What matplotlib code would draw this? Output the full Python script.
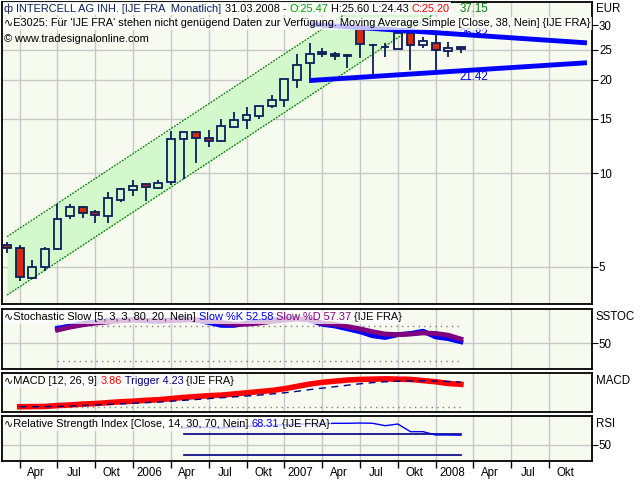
import matplotlib
matplotlib.use('Agg')
import matplotlib.pyplot as plt
import matplotlib.transforms as mtransforms
import numpy as np
from matplotlib.offsetbox import TextArea, HPacker, AnchoredOffsetbox
from matplotlib.ticker import NullLocator, FixedLocator, FixedFormatter

# Monatskerzen Mär 2005 .. Mär 2008 (Index 0 = Mär 2005)
opens = [5.87, 5.74, 4.60, 4.99, 5.70, 7.28, 7.78, 7.50, 7.28, 8.19, 8.82, 9.22, 8.96,
         9.37, 12.88, 13.56, 12.97, 12.69, 14.07, 14.82, 15.27, 16.44, 17.19, 19.98, 22.6,
         24.6, 24.27, 23.85, 29.1, 25.8, 25.5, 25.1, 28.3, 25.8, 26.3, 24.8, 25.47]
highs = [6.03, 5.87, 5.27, 5.80, 7.96, 7.96, 7.87, 7.63, 8.70, 8.95, 9.50, 9.25, 9.50,
         13.72, 13.60, 13.60, 13.77, 14.93, 15.72, 16.32, 16.44, 17.83, 20.10, 24.3, 26.2,
         25.3, 24.6, 24.2, 29.5, 26.1, 26.3, 29.0, 28.6, 27.5, 28.0, 26.4, 25.60]
lows = [5.56, 4.52, 4.57, 4.86, 5.65, 7.14, 7.21, 6.94, 6.94, 8.10, 8.48, 8.17, 8.89,
        9.16, 9.58, 10.83, 12.19, 12.60, 14.07, 13.86, 14.93, 16.20, 16.32, 18.87, 19.6,
        23.6, 23.2, 21.8, 23.45, 20.7, 23.6, 25.1, 21.5, 25.4, 21.35, 23.6, 24.43]
closes = [5.74, 4.63, 4.99, 5.70, 7.12, 7.78, 7.44, 7.33, 8.32, 8.89, 9.09, 9.02, 9.29,
          12.88, 13.56, 12.97, 12.69, 14.18, 14.82, 15.38, 16.44, 17.19, 20.08, 22.3, 24.3,
          24.2, 23.85, 24.1, 26.0, 25.95, 25.6, 28.3, 25.9, 26.7, 24.96, 25.3, 25.20]

# Trendkanal (grün) und Trendlinien (blau)
chan_x = [0, 36]
chan_low = [4.06, 37.15]
chan_high = [6.26, 57.3]
trend_x = [24, 46]
trend_low = [19.9, 22.7]
trend_high = [30.2, 26.3]

# Stochastic Slow ab Jul 2005 (Index 4)
stoch_k = [76, 80, 84, 87, 89, 90, 91, 89, 88, 90, 92, 90, 86, 81, 81, 85, 88, 90, 92, 93,
           90, 83, 80, 75, 70, 63, 60, 65, 67, 71, 61, 58, 52.58]
stoch_d = [73, 78, 82, 85, 87, 89, 90, 90, 89, 89, 90, 91, 89, 86, 83, 83, 85, 88, 90, 92,
           91, 85, 83, 79, 75, 70, 66, 65, 66, 68, 67, 64, 57.37]

# MACD ab Apr 2005 (Index 1)
macd = [0.0, 0.02, 0.05, 0.2, 0.3, 0.45, 0.55, 0.7, 0.85, 0.95, 1.1, 1.2, 1.4, 1.6, 1.75,
        1.9, 2.0, 2.2, 2.4, 2.6, 2.8, 3.1, 3.5, 3.9, 4.2, 4.4, 4.6, 4.7, 4.75, 4.8, 4.75,
        4.7, 4.5, 4.3, 4.0, 3.86]
trigger = [0.0, 0.0, 0.01, 0.05, 0.1, 0.2, 0.3, 0.4, 0.5, 0.6, 0.7, 0.8, 0.95, 1.1, 1.25,
           1.4, 1.55, 1.7, 1.85, 2.0, 2.2, 2.4, 2.65, 2.95, 3.2, 3.45, 3.7, 3.95, 4.15, 4.3,
           4.4, 4.45, 4.45, 4.4, 4.35, 4.23]

# RSI ab Mai 2006 (Index 14)
rsi_vals = [82, 84, 83, 82, 84, 85, 86, 87, 88, 89, 90, 90, 91, 91, 91.5, 91, 86.4, 89.6,
            75, 75, 68.7, 68.7, 68.31]

quarter_labels = ['Apr', 'Jul', 'Okt', '2006', 'Apr', 'Jul', 'Okt', '2007',
                  'Apr', 'Jul', 'Okt', '2008', 'Apr', 'Jul', 'Okt']

FONT = ['Liberation Sans', 'DejaVu Sans']
FS = 7.9
BG = '#f7faee'
GRID = '#c8c8c8'
NAVY = '#0a1f5c'

plt.rcParams['font.family'] = FONT
plt.rcParams['font.size'] = FS

fig = plt.figure(figsize=(6.4, 4.8), dpi=100)
W, H = 640, 480


def panel(y0, y1):
    ax = fig.add_axes([2 / W, 1 - y1 / H, 590 / W, (y1 - y0) / H])
    ax.set_facecolor(BG)
    for s in ax.spines.values():
        s.set_linewidth(1.3)
    ax.set_xlim(-0.4, 46.4)
    ax.set_xticks(np.arange(1, 44, 3))
    ax.grid(axis='x', color=GRID, lw=1)
    ax.set_axisbelow(True)
    ax.tick_params(axis='x', length=0, labelbottom=False)
    ax.yaxis.tick_right()
    ax.tick_params(axis='y', direction='out', length=4, pad=1, labelsize=FS + 0.4)
    return ax


def label_row(ax, pieces, px, py, alpha):
    areas = [TextArea(t, textprops=dict(color=c, fontsize=FS, family=FONT)) for t, c in pieces]
    pack = HPacker(children=areas, align='baseline', pad=0, sep=0)
    box = AnchoredOffsetbox(loc='upper left', child=pack, pad=0.12, borderpad=0,
                            frameon=alpha > 0, bbox_to_anchor=(px / W, 1 - py / H),
                            bbox_transform=fig.transFigure)
    if alpha > 0:
        box.patch.set_boxstyle('square', pad=0)
        box.patch.set_facecolor('white')
        box.patch.set_edgecolor('none')
        box.patch.set_alpha(alpha)
    box.set_zorder(10)
    ax.add_artist(box)


x = np.arange(len(closes))

# ---- Hauptchart ----
ax = panel(2, 304)
ax.set_yscale('log')
ax.set_ylim(3.8, 35.6)
ax.yaxis.set_minor_locator(NullLocator())
ax.yaxis.set_major_locator(FixedLocator([5, 10, 15, 20, 25, 30]))
ax.yaxis.set_major_formatter(FixedFormatter(['5', '10', '15', '20', '25', '30']))
ax.grid(axis='y', color=GRID, lw=1)

ax.fill_between(chan_x, chan_low, chan_high, color='#d2f8cc', lw=0, zorder=1)
ax.plot(chan_x, chan_low, color='#008000', lw=0.9, ls=(0, (1.5, 1)), zorder=2)
ax.plot(chan_x, chan_high, color='#008000', lw=0.9, ls=(0, (1.5, 1)), zorder=2)

o = np.array(opens); c = np.array(closes); h = np.array(highs); l = np.array(lows)
top = np.maximum(o, c); bot = np.minimum(o, c)
ax.vlines(x, top, h, color=NAVY, lw=1.3, zorder=3)
ax.vlines(x, l, bot, color=NAVY, lw=1.3, zorder=3)
up = c >= o
ax.bar(x[up], (top - bot)[up], bottom=bot[up], width=0.62, facecolor='none',
       edgecolor=NAVY, lw=1.3, zorder=4)
ax.bar(x[~up], (top - bot)[~up], bottom=bot[~up], width=0.62, facecolor='#d82a0a',
       edgecolor=NAVY, lw=1.3, zorder=4)

ax.plot(trend_x, trend_low, color='#0000ff', lw=3.5, zorder=5, solid_capstyle='butt')
ax.plot(trend_x, trend_high, color='#0000ff', lw=3.5, zorder=5, solid_capstyle='butt')
ax.text(37, 21.42, '21.42', color='#0000ff', ha='center', va='top', fontsize=FS + 0.4, zorder=6)
ax.text(37, 26.82, '26.82', color='#0000ff', ha='center', va='bottom', fontsize=FS + 0.4, zorder=6)
top_tr = mtransforms.blended_transform_factory(ax.transData, ax.transAxes)
ax.text(37, 0.998, '37.15', color='#008000', ha='center', va='top', fontsize=FS + 0.4,
        zorder=6, transform=top_tr)

label_row(ax, [('ф ', NAVY), ('INTERCELL AG INH. [IJE FRA  Monatlich]', NAVY),
               (' 31.03.2008 - ', 'black'), ('O:25.47', '#00a000'),
               (' H:25.60 L:24.43 ', 'black'), ('C:25.20', '#ff0000')], 3, 2, 0.92)
label_row(ax, [('∿E3025: Für \'IJE FRA\' stehen nicht genügend Daten zur Verfügung. '
                'Moving Average Simple [Close, 38, Nein] {IJE FRA}', 'black')], 3, 17, 0.75)
label_row(ax, [('© www.tradesignalonline.com', 'black')], 3, 33, 0)
fig.text(596 / W, 1 - 9 / H, 'EUR', fontsize=FS + 0.4, va='center')

# ---- Stochastic ----
ax2 = panel(309, 369)
ax2.set_ylim(5.5, 109.4)
ax2.set_yticks([50])
ax2.grid(axis='y', color=GRID, lw=1)
xs = np.arange(4, 37)
ax2.plot([4, 36], [80, 80], color='#808080', lw=1, ls=(0, (1, 3)))
ax2.plot([4, 36], [20, 20], color='#808080', lw=1, ls=(0, (1, 3)))
ax2.plot(xs, stoch_k, color='#0000ff', lw=3.5)
ax2.plot(xs, stoch_d, color='#800080', lw=3.5)
label_row(ax2, [('∿Stochastic Slow [5, 3, 3, 80, 20, Nein] ', 'black'),
                ('Slow %K 52.58', '#0000ff'), (' Slow %D 57.37', '#800080'),
                (' {IJE FRA}', 'black')], 3, 311, 0.75)
fig.text(596 / W, 1 - 317 / H, 'SSTOC', fontsize=FS + 0.4, va='center')

# ---- MACD ----
ax3 = panel(373, 412)
ax3.set_ylim(-0.91, 5.81)
ax3.set_yticks([])
xm = np.arange(1, 37)
ax3.plot([1, 36], [0, 0], color='#808080', lw=1, ls=(0, (1, 3)))
ax3.plot(xm, macd, color='#ff0000', lw=4)
ax3.plot(xm, trigger, color='#000080', lw=1, ls=(0, (5, 4)))
label_row(ax3, [('∿MACD [12, 26, 9] ', 'black'), ('3.86', '#ff0000'),
                (' Trigger 4.23', '#000080'), (' {IJE FRA}', 'black')], 3, 375, 0.75)
fig.text(596 / W, 1 - 381 / H, 'MACD', fontsize=FS + 0.4, va='center')

# ---- RSI ----
ax4 = panel(416, 461)
ax4.set_ylim(19.1, 104.9)
ax4.set_yticks([50])
ax4.grid(axis='y', color=GRID, lw=1)
xr = np.arange(14, 37)
ax4.plot([14, 36], [70, 70], color='#000080', lw=1.2)
ax4.plot([14, 36], [30, 30], color='#000080', lw=1.2)
ax4.plot(xr, rsi_vals, color='#0000ff', lw=1)
label_row(ax4, [('∿Relative Strength Index [Close, 14, 30, 70, Nein] ', 'black'),
                ('68.31', '#0000ff'), (' {IJE FRA}', 'black')], 3, 418, 0.75)
fig.text(596 / W, 1 - 424 / H, 'RSI', fontsize=FS + 0.4, va='center')

ax4.tick_params(axis='x', which='major', length=5, width=1, direction='out')
ax4.set_xticks(np.arange(1, 44, 3) + 1.3, minor=True)
ax4.set_xticklabels(quarter_labels, minor=True)
ax4.tick_params(axis='x', which='minor', length=0, labelbottom=True, pad=4, labelsize=FS + 0.4)

fig.savefig('out.png', dpi=100, facecolor='white')
